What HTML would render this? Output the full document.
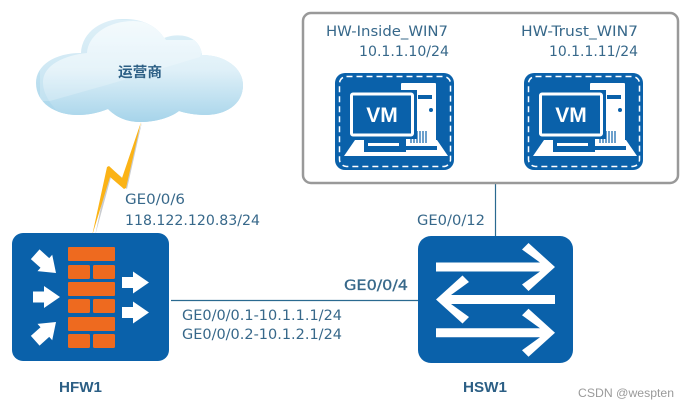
<!DOCTYPE html>
<html>
<head>
<meta charset="utf-8">
<style>
html,body{margin:0;padding:0;background:#fff;width:689px;height:409px;overflow:hidden}
svg{display:block}
text{font-family:"DejaVu Sans","Liberation Sans",sans-serif;fill:#37688a;font-size:14px}
.b{font-family:"Liberation Sans",sans-serif;font-weight:bold}
</style>
</head>
<body>
<svg width="689" height="409" viewBox="0 0 689 409" xmlns="http://www.w3.org/2000/svg">
<defs>
<linearGradient id="cb" gradientUnits="userSpaceOnUse" x1="0" y1="18" x2="0" y2="122">
<stop offset="0" stop-color="#d6ecf6"/><stop offset="0.5" stop-color="#c2e2f1"/><stop offset="1" stop-color="#a6d4ea"/>
</linearGradient>
<linearGradient id="ci" gradientUnits="userSpaceOnUse" x1="0" y1="18" x2="0" y2="122">
<stop offset="0" stop-color="#f2fafd"/><stop offset="0.5" stop-color="#dff0f8"/><stop offset="1" stop-color="#a6d4ea"/>
</linearGradient>
<path id="cloud" d="M81 53C82 30 105 18 125 19C145 19 158 28 164 38C180 32 200 36 202 55C225 55 243 68 243 85C243 105 225 115 205 115C195 115 185 113 179 111C170 118 155 122 140 122C125 122 115 116 108 109C98 113 88 115 78 115C55 115 36 103 36 83C36 65 55 53 81 53Z"/>
<clipPath id="cc"><use href="#cloud"/></clipPath>
<g id="vm">
<rect x="335" y="73" width="119" height="97" rx="10" fill="#0a61aa"/>
<rect x="339.500" y="76.500" width="111" height="90" rx="7" fill="none" stroke="#fff" stroke-width="1.500" stroke-dasharray="6 4"/>
<polygon points="355,140 437,140 448,156 344,156" fill="#fff"/>
<rect x="401" y="83" width="35" height="63" rx="1" fill="#fff"/>
<rect x="418" y="95" width="14" height="4" fill="#0a61aa"/>
<circle cx="431" cy="110" r="2" fill="#0a61aa"/>
<path d="M411 131V143M414 131V143M417 131V143M420 131V143M423 131V143M426 131V143" stroke="#0a61aa" stroke-width="1.200"/>
<rect x="347" y="90" width="70" height="49" fill="#0a61aa"/>
<rect x="364" y="136" width="42" height="16" fill="#0a61aa"/>
<rect x="406" y="146" width="31" height="4" fill="#0a61aa"/>
<rect x="368" y="143" width="31" height="3" fill="#fff"/>
<rect x="351.500" y="94" width="61" height="41" rx="1.500" fill="#0a61aa" stroke="#fff" stroke-width="3"/>
</g>
<polygon id="fa" points="-27,-5.500 -16,-5.500 -16,-11 0,0 -16,11 -16,5.500 -27,5.500" fill="#fff"/>
<polygon id="fd" points="-28,-6.500 -15,-6.500 -15,-11 0,0 -15,11 -15,6.500 -28,6.500" fill="#fff"/>
<polygon id="sa" points="436,-4.500 540,-4.500 522,-17.500 528.500,-24 555,0 528.500,24 522,17.500 540,4.500 436,4.500" fill="#fff"/>
</defs>

<!-- cloud -->
<use href="#cloud" fill="url(#cb)"/>
<g clip-path="url(#cc)">
<path d="M87 53C88 35 108 21 133 21C148 21 158 28 166 40L250 40L250 125L70 125C60 113 43 100 43 82C43 65 65 55 87 53Z" fill="url(#ci)"/>
<polygon points="50,101 110,84 200,57 205,40 170,20 40,20 40,101" fill="#fff" opacity="0.22"/>
</g>
<text x="118" y="77" textLength="44" lengthAdjust="spacingAndGlyphs" style="font-size:14px;font-family:'Liberation Sans','Noto Sans CJK SC',sans-serif;font-weight:bold;fill:#2c5f85">运营商</text>

<!-- lightning -->
<polygon points="142,122 127,189 111,177 95,236 109,167 124,179" fill="#c9ccd0"/>
<polygon points="141,122 126,188 124,189 110,177 92,236 107,167 109,166 122,178" fill="#fbb316"/>

<!-- lines -->
<line x1="171" y1="300.500" x2="418" y2="300.500" stroke="#2a6a90" stroke-width="1.200"/>
<line x1="495.500" y1="183" x2="495.500" y2="236" stroke="#2a6a90" stroke-width="1.200"/>

<!-- firewall -->
<rect x="12" y="233" width="157" height="128" rx="11" fill="#0a61aa"/>
<g fill="#ee6a1f">
<rect x="68" y="247" width="47" height="14" rx="1"/>
<rect x="68" y="265" width="22" height="14" rx="1.500"/><rect x="93" y="265" width="22" height="14" rx="1.500"/>
<rect x="68" y="282" width="47" height="14" rx="1"/>
<rect x="68" y="299" width="22" height="14" rx="1.500"/><rect x="93" y="299" width="22" height="14" rx="1.500"/>
<rect x="68" y="317" width="47" height="14" rx="1"/>
<rect x="68" y="334" width="22" height="14" rx="1.500"/><rect x="93" y="334" width="22" height="14" rx="1.500"/>
</g>
<use href="#fa" transform="translate(149,282.500)"/>
<use href="#fa" transform="translate(149,312.500)"/>
<use href="#fa" transform="translate(60,297)"/>
<use href="#fd" transform="translate(56,273) rotate(42)"/>
<use href="#fd" transform="translate(56,322) rotate(-42)"/>

<!-- switch -->
<rect x="418" y="236" width="155" height="127" rx="13" fill="#0a61aa"/>
<use href="#sa" transform="translate(0,267)"/>
<use href="#sa" transform="translate(991,299.500) scale(-1,1)"/>
<use href="#sa" transform="translate(0,332.700)"/>

<!-- group box -->
<rect x="303" y="13" width="375" height="170" rx="8" fill="#fff" stroke="#999" stroke-width="2.500"/>
<use href="#vm"/>
<text x="382" y="122" text-anchor="middle" style="font-size:21px;fill:#fff;font-family:'Liberation Sans',sans-serif;font-weight:bold">VM</text>
<use href="#vm" transform="translate(189,0)"/>
<text x="571" y="122" text-anchor="middle" style="font-size:21px;fill:#fff;font-family:'Liberation Sans',sans-serif;font-weight:bold">VM</text>

<!-- labels -->
<text x="326" y="36" textLength="122" lengthAdjust="spacingAndGlyphs">HW-Inside_WIN7</text>
<text x="359" y="56" textLength="90" lengthAdjust="spacingAndGlyphs">10.1.1.10/24</text>
<text x="521" y="36" textLength="117" lengthAdjust="spacingAndGlyphs">HW-Trust_WIN7</text>
<text x="549" y="56" textLength="89" lengthAdjust="spacingAndGlyphs">10.1.1.11/24</text>
<text x="125" y="204" textLength="60" lengthAdjust="spacingAndGlyphs">GE0/0/6</text>
<text x="125" y="225" textLength="135" lengthAdjust="spacingAndGlyphs">118.122.120.83/24</text>
<text x="182" y="320" textLength="160" lengthAdjust="spacingAndGlyphs">GE0/0/0.1-10.1.1.1/24</text>
<text x="182" y="339" textLength="160" lengthAdjust="spacingAndGlyphs">GE0/0/0.2-10.1.2.1/24</text>
<text x="344" y="290" textLength="64" lengthAdjust="spacingAndGlyphs" style="font-size:14px;stroke:#37688a;stroke-width:0.300">GE0/0/4</text>
<text x="417" y="225" textLength="68" lengthAdjust="spacingAndGlyphs">GE0/0/12</text>
<text x="59" y="392" textLength="43" lengthAdjust="spacingAndGlyphs" class="b" style="font-size:15px;fill:#2c5f85">HFW1</text>
<text x="463" y="392" textLength="44" lengthAdjust="spacingAndGlyphs" class="b" style="font-size:15px;fill:#2c5f85">HSW1</text>
<text x="578" y="397" textLength="96" lengthAdjust="spacingAndGlyphs" style="font-family:'Liberation Sans',sans-serif;font-size:12px;fill:#9a9a9a">CSDN @wespten</text>
</svg>
</body>
</html>
